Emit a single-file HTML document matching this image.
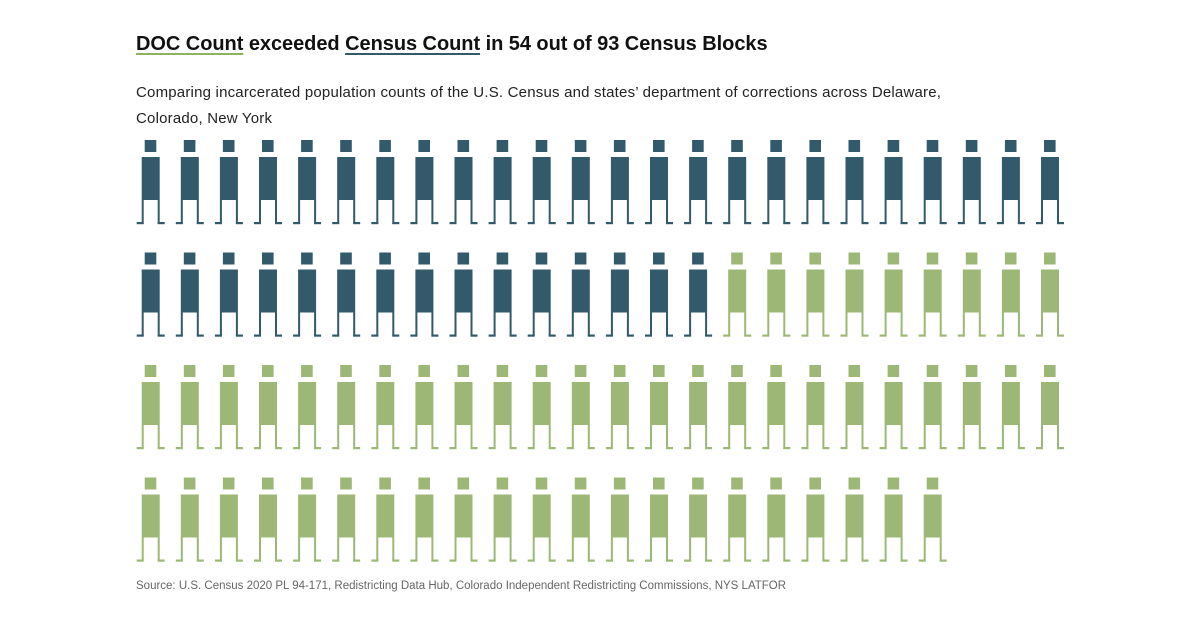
<!DOCTYPE html>
<html><head><meta charset="utf-8"><style>
body{margin:0;width:1200px;height:630px;background:#fff;font-family:"Liberation Sans",sans-serif;position:relative;overflow:hidden}
#title{position:absolute;left:136px;top:33px;font-size:20px;font-weight:bold;color:#111;letter-spacing:-0.05px}
.u1{text-decoration:underline;text-decoration-color:#8fb35c;text-underline-offset:3px}
.u2{text-decoration:underline;text-decoration-color:#335a6a;text-underline-offset:3px}
#sub{position:absolute;left:136px;top:80px;width:830px;font-size:15px;line-height:26px;color:#222;letter-spacing:0.2px}
#src{position:absolute;left:136px;top:580px;font-size:11.5px;color:#666;letter-spacing:0px}
svg{position:absolute;left:0;top:0}
</style></head><body>
<div id="title"><span class="u1">DOC Count</span> exceeded <span class="u2">Census Count</span> in 54 out of 93 Census Blocks</div>
<div id="sub">Comparing incarcerated population counts of the U.S. Census and states’ department of corrections across Delaware, Colorado, New York</div>
<svg id="chart" width="1200" height="630"></svg>
<div id="src">Source: U.S. Census 2020 PL 94-171, Redistricting Data Hub, Colorado Independent Redistricting Commissions, NYS LATFOR</div>
<script>
const categories = ["Census Count higher or equal", "DOC Count higher"];
const counts = [39, 54];
const colors = ["#335a6a", "#9db876"];
const perRow = 24;
const svg = document.getElementById('chart');
const NS = 'http://www.w3.org/2000/svg';
const x0 = 137, y0 = 140, dx = 39.1, dy = 112.5;
function rect(g, x, y, w, h, c) {
  const r = document.createElementNS(NS, 'rect');
  r.setAttribute('x', x); r.setAttribute('y', y); r.setAttribute('width', w); r.setAttribute('height', h); r.setAttribute('fill', c);
  g.appendChild(r);
}
let idx = 0;
counts.forEach((n, ci) => {
  for (let k = 0; k < n; k++, idx++) {
    const col = idx % perRow, row = Math.floor(idx / perRow);
    const x = x0 + col * dx, y = y0 + row * dy;
    const g = document.createElementNS(NS, 'g');
    
    
    const c = colors[ci];
    rect(g, x + 7.7, y, 11.6, 12, c);
    rect(g, x + 4.7, y + 17, 18, 43, c);
    rect(g, x + 4.7, y + 60, 2, 24, c);
    rect(g, x + 20.7, y + 60, 2, 24, c);
    rect(g, x - 0.3, y + 82, 7, 2.2, c);
    rect(g, x + 20.7, y + 82, 7, 2.2, c);
    svg.appendChild(g);
  }
});
</script>
</body></html>
